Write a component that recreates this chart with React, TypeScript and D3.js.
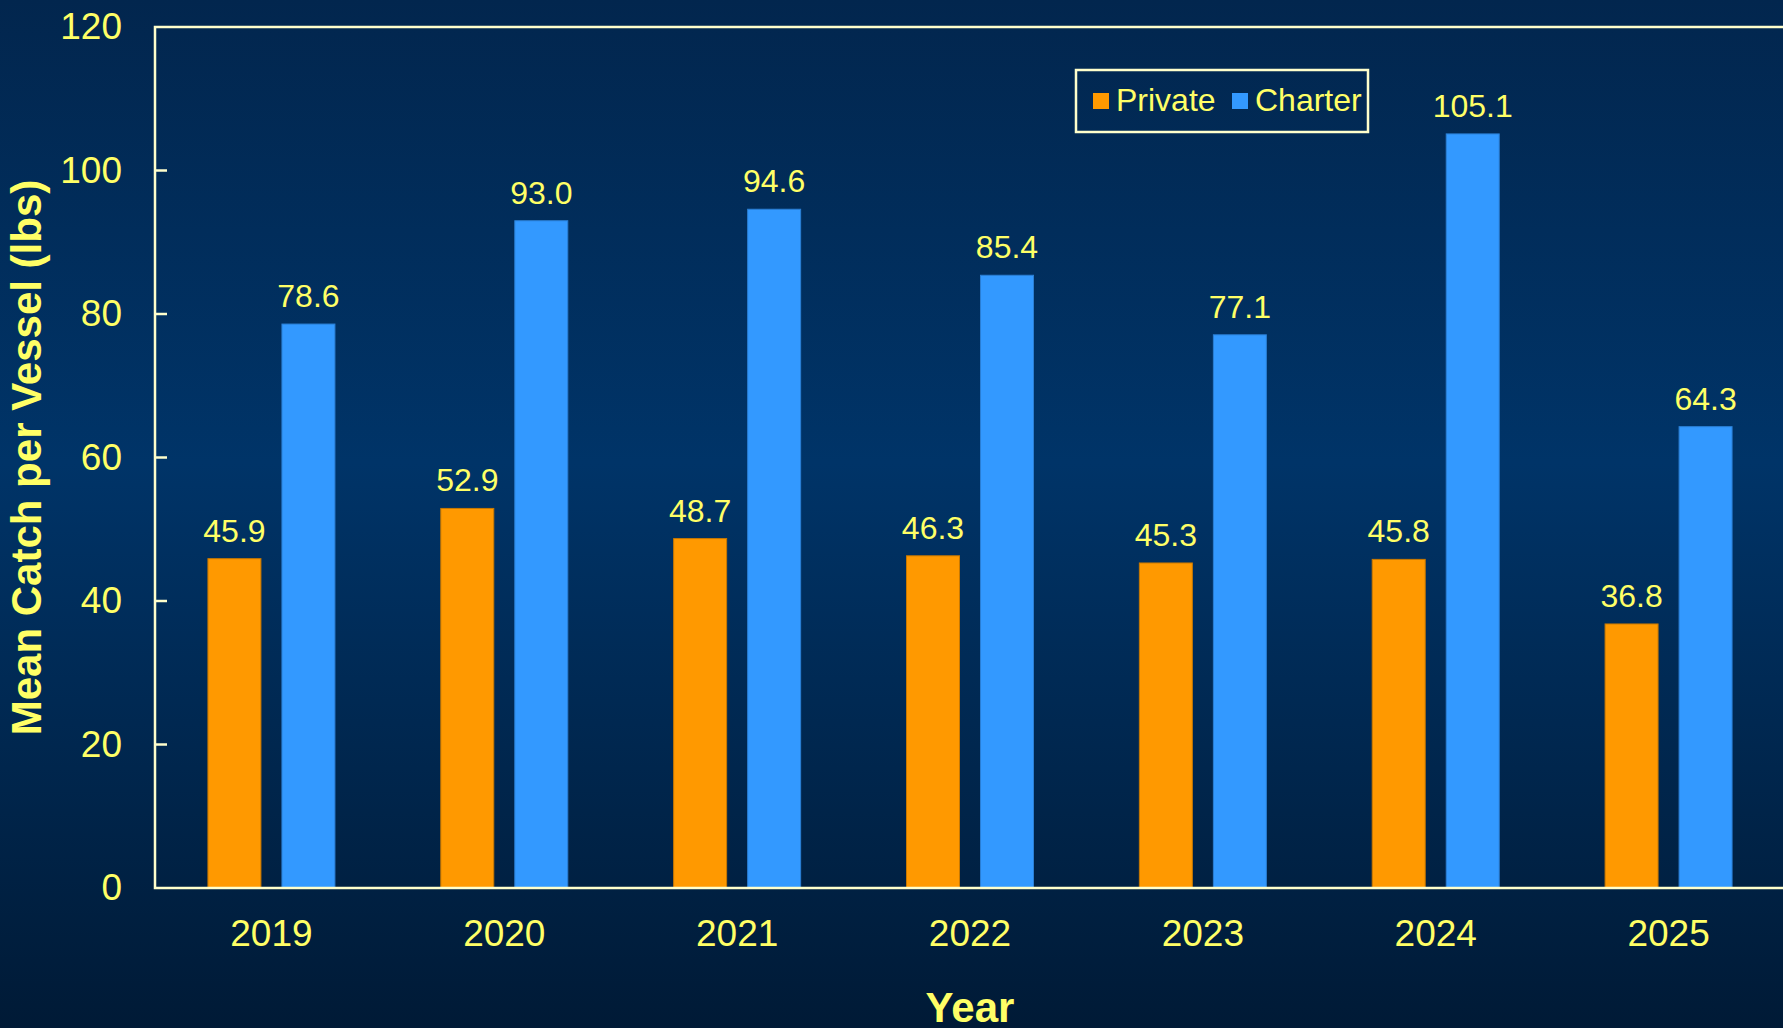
import React from "react";
import * as d3 from "d3";

const years = ["2019", "2020", "2021", "2022", "2023", "2024", "2025"];
const seriesNames = ["Private", "Charter"];
const privateValues = [45.9, 52.9, 48.7, 46.3, 45.3, 45.8, 36.8];
const charterValues = [78.6, 93.0, 94.6, 85.4, 77.1, 105.1, 64.3];
const yTicks = [0, 20, 40, 60, 80, 100, 120];
const seriesColors = ["#ff9900", "#3399ff"];
const edgeColors = ["#c87800", "#2b7fd4"];

const W = 1783;
const H = 1028;
const margin = { top: 27, right: -2, bottom: 140, left: 155 };
const textColor = "#ffff66";
const frameColor = "#ffffcc";
const font = "'Liberation Sans', Arial, Helvetica, sans-serif";

const App: React.FC = () => {
  const x0 = d3.scaleBand<string>().domain(years).range([margin.left, W - margin.right]).padding(0);
  const x1 = d3.scaleBand<string>().domain(seriesNames).range([-63.5, 63.5]).paddingInner(0.284).paddingOuter(0);
  const y = d3.scaleLinear().domain([0, 120]).range([H - margin.bottom, margin.top]);

  const values = [privateValues, charterValues];
  const plotBottom = y(0);
  const plotTop = y(120);
  const plotRight = W - margin.right;

  return (
    <svg width={W} height={H} style={{ position: "absolute", left: 0, top: 0, display: "block" }} fontFamily={font}>
      <defs>
        <linearGradient id="bg" x1="0" y1="0" x2="0" y2="1">
          <stop offset="0%" stopColor="#02264e" />
          <stop offset="45%" stopColor="#003468" />
          <stop offset="100%" stopColor="#001a36" />
        </linearGradient>
      </defs>
      <rect x={0} y={0} width={W} height={H} fill="url(#bg)" />

      {/* bars */}
      {years.map((yr, i) => (
        <g key={yr} transform={`translate(${x0(yr)! + x0.bandwidth() / 2},0)`}>
          {seriesNames.map((s, j) => {
            const v = values[j][i];
            const bx = x1(s)!;
            return (
              <g key={s}>
                <rect
                  x={bx}
                  y={y(v)}
                  width={x1.bandwidth()}
                  height={plotBottom - y(v)}
                  fill={seriesColors[j]}
                  stroke={edgeColors[j]}
                  strokeWidth={1}
                />
                <text
                  x={bx + x1.bandwidth() / 2}
                  y={y(v) - 17}
                  textAnchor="middle"
                  fontSize={32}
                  fill={textColor}
                >
                  {v.toFixed(1)}
                </text>
              </g>
            );
          })}
          <text x={0} y={946} textAnchor="middle" fontSize={37} fill={textColor}>
            {yr}
          </text>
        </g>
      ))}

      {/* frame */}
      <path
        d={`M${plotRight},${plotTop}H${margin.left}V${plotBottom}H${plotRight}`}
        fill="none"
        stroke={frameColor}
        strokeWidth={2.5}
      />

      {/* y ticks */}
      {yTicks.map((t) => (
        <g key={t}>
          {t > 0 && t < 120 && (
            <line x1={margin.left} x2={margin.left + 12} y1={y(t)} y2={y(t)} stroke={frameColor} strokeWidth={2.5} />
          )}
          <text x={122} y={y(t) + 12} textAnchor="end" fontSize={37} fill={textColor}>
            {t}
          </text>
        </g>
      ))}

      {/* axis titles */}
      <text
        x={(margin.left + plotRight) / 2}
        y={1022}
        textAnchor="middle"
        fontSize={42}
        fontWeight="bold"
        fill={textColor}
      >
        Year
      </text>
      <text
        transform={`translate(41,${(plotTop + plotBottom) / 2}) rotate(-90)`}
        textAnchor="middle"
        fontSize={42}
        fontWeight="bold"
        fill={textColor}
      >
        Mean Catch per Vessel (lbs)
      </text>

      {/* legend */}
      <g>
        <rect x={1076} y={70} width={292} height={62} fill="none" stroke={frameColor} strokeWidth={2.5} />
        {seriesNames.map((s, j) => {
          const lx = j === 0 ? 1093 : 1232;
          return (
            <g key={s}>
              <rect x={lx} y={93} width={16} height={16} fill={seriesColors[j]} />
              <text x={lx + 23} y={111} fontSize={32} fill={textColor}>
                {s}
              </text>
            </g>
          );
        })}
      </g>
    </svg>
  );
};

export default App;
